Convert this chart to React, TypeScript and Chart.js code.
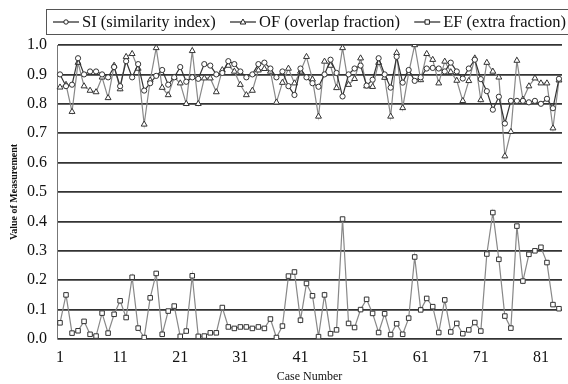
import React, { useEffect, useRef } from "react";
import { Chart, registerables } from "chart.js";

Chart.register(...registerables);

const caseNumbers: number[] = Array.from({ length: 84 }, (_, i) => i + 1);
const xTickLabels: number[] = [1, 11, 21, 31, 41, 51, 61, 71, 81];

const seriesNames: string[] = ["SI (similarity index)", "OF (overlap fraction)", "EF (extra fraction)"];

const siValues: number[] = [
  0.90, 0.86, 0.865, 0.955, 0.90, 0.91, 0.91, 0.90, 0.89, 0.925,
  0.86, 0.945, 0.89, 0.935, 0.845, 0.87, 0.895, 0.915, 0.865, 0.89,
  0.925, 0.875, 0.89, 0.885, 0.935, 0.93, 0.90, 0.905, 0.945, 0.935,
  0.91, 0.89, 0.90, 0.935, 0.94, 0.92, 0.89, 0.91, 0.86, 0.83,
  0.92, 0.89, 0.87, 0.858, 0.90, 0.95, 0.905, 0.825, 0.90, 0.92,
  0.93, 0.862, 0.882, 0.955, 0.90, 0.855, 0.96, 0.872, 0.915, 0.878,
  0.89, 0.92, 0.922, 0.92, 0.91, 0.94, 0.91, 0.886, 0.92, 0.95,
  0.884, 0.843, 0.78, 0.824, 0.733, 0.81, 0.81, 0.81, 0.805, 0.81,
  0.80, 0.817, 0.785, 0.885,
];

const ofValues: number[] = [
  0.856, 0.865, 0.773, 0.94, 0.86, 0.845, 0.84, 0.89, 0.82, 0.93,
  0.85, 0.96, 0.97, 0.92, 0.73, 0.88, 0.99, 0.855, 0.83, 0.89,
  0.87, 0.80, 0.98, 0.80, 0.887, 0.887, 0.84, 0.915, 0.93, 0.91,
  0.865, 0.83, 0.845, 0.914, 0.919, 0.91, 0.805, 0.872, 0.92, 0.87,
  0.91, 0.96, 0.883, 0.757, 0.944, 0.93, 0.854, 0.99, 0.865, 0.885,
  0.955, 0.86, 0.858, 0.94, 0.889, 0.757, 0.973, 0.786, 0.905, 1.0,
  0.881, 0.97, 0.95, 0.87, 0.944, 0.908, 0.879, 0.81, 0.878, 0.955,
  0.813, 0.94, 0.91, 0.89, 0.622, 0.705, 0.947, 0.815, 0.86, 0.887,
  0.87, 0.87, 0.717, 0.88,
];

const efValues: number[] = [
  0.055, 0.15, 0.02, 0.028, 0.06, 0.016, 0.01, 0.088, 0.02, 0.084,
  0.13, 0.073, 0.21, 0.037, 0.005, 0.14, 0.223, 0.016, 0.095, 0.112,
  0.009, 0.027, 0.215, 0.009, 0.01, 0.021, 0.021, 0.107, 0.041, 0.036,
  0.041, 0.041, 0.036, 0.041, 0.036, 0.068, 0.005, 0.044, 0.214, 0.228,
  0.064, 0.189, 0.147, 0.008, 0.15, 0.018, 0.031, 0.408, 0.053, 0.039,
  0.10, 0.135, 0.087, 0.022, 0.086, 0.015, 0.052, 0.016, 0.071, 0.279,
  0.099, 0.138, 0.11, 0.022, 0.133, 0.024, 0.053, 0.018, 0.031, 0.056,
  0.027, 0.289, 0.43, 0.271, 0.078, 0.037, 0.384, 0.197, 0.288, 0.30,
  0.312, 0.26, 0.117, 0.103,
];

const FONT = "'Liberation Serif', 'Times New Roman', serif";

const legendPlugin = {
  id: "boxLegend",
  afterDraw(chart: any) {
    const ctx = chart.ctx as CanvasRenderingContext2D;
    ctx.save();
    ctx.strokeStyle = "#555";
    ctx.lineWidth = 1;
    ctx.strokeRect(46.5, 9.5, 540, 25);
    ctx.font = "16.5px " + FONT;
    ctx.textBaseline = "middle";
    const y = 22;
    const lineLen = 26;
    const textOff = 29;
    const startX = 53;
    const endX = 566;
    const widths = chart.data.datasets.map((ds: any) => ctx.measureText(ds.label).width);
    const total = widths.reduce((a: number, b: number) => a + b, 0) + textOff * widths.length;
    const gap = Math.max(4, (endX - startX - total) / (widths.length - 1));
    let x = startX;
    chart.data.datasets.forEach((ds: any, i: number) => {
      ctx.strokeStyle = "#222";
      ctx.lineWidth = 1.2;
      ctx.beginPath();
      ctx.moveTo(x, y);
      ctx.lineTo(x + lineLen, y);
      ctx.stroke();
      ctx.fillStyle = "#fff";
      ctx.lineWidth = 1;
      ctx.beginPath();
      const cx = x + lineLen / 2;
      if (ds.pointStyle === "circle") {
        ctx.arc(cx, y, 2.2, 0, Math.PI * 2);
      } else if (ds.pointStyle === "triangle") {
        ctx.moveTo(cx, y - 3);
        ctx.lineTo(cx + 2.8, y + 2);
        ctx.lineTo(cx - 2.8, y + 2);
        ctx.closePath();
      } else {
        ctx.rect(cx - 2.2, y - 2.2, 4.4, 4.4);
      }
      ctx.fill();
      ctx.stroke();
      ctx.fillStyle = "#111";
      ctx.fillText(ds.label, x + textOff, y + 1);
      x += textOff + widths[i] + gap;
    });
    ctx.restore();
  },
};

export default function App() {
  const ref = useRef<HTMLCanvasElement | null>(null);

  useEffect(() => {
    document.body.style.margin = "0";
    if (!ref.current) return;
    const chart = new Chart(ref.current, {
      type: "line",
      data: {
        labels: caseNumbers.map(String),
        datasets: [
          {
            label: seriesNames[0],
            data: siValues,
            borderColor: "#333",
            borderWidth: 1.2,
            pointStyle: "circle",
            pointRadius: 2.6,
            pointBackgroundColor: "#fff",
            pointBorderColor: "#333",
            pointBorderWidth: 1,
            tension: 0,
          },
          {
            label: seriesNames[1],
            data: ofValues,
            borderColor: "#888",
            borderWidth: 1.2,
            pointStyle: "triangle",
            pointRadius: 3.4,
            pointBackgroundColor: "#fff",
            pointBorderColor: "#333",
            pointBorderWidth: 1,
            tension: 0,
          },
          {
            label: seriesNames[2],
            data: efValues,
            borderColor: "#888",
            borderWidth: 1.2,
            pointStyle: "rect",
            pointRadius: 3.2,
            pointBackgroundColor: "#fff",
            pointBorderColor: "#333",
            pointBorderWidth: 1,
            tension: 0,
          },
        ],
      },
      options: {
        animation: false,
        responsive: false,
        maintainAspectRatio: false,
        layout: { padding: { top: 45, left: 0, right: 0, bottom: 0 } },
        plugins: {
          legend: { display: false },
          tooltip: { enabled: false },
        },
        elements: { line: { borderJoinStyle: "miter" } },
        scales: {
          x: {
            type: "category",
            offset: true,
            grid: { display: false, drawTicks: false },
            border: { display: false },
            ticks: {
              autoSkip: false,
              maxRotation: 0,
              minRotation: 0,
              padding: 9,
              color: "#111",
              font: { family: FONT, size: 16 },
              callback: function (this: any, _v: any, i: number) {
                const lab = caseNumbers[i];
                return xTickLabels.includes(lab) ? String(lab) : "";
              },
            },
            title: {
              display: true,
              text: "Case Number",
              color: "#111",
              font: { family: FONT, size: 12 },
              padding: { top: 0, bottom: 0 },
            },
            afterFit: (s: any) => {
              s.height = 45;
            },
          },
          y: {
            type: "linear",
            min: 0,
            max: 1,
            grid: { color: "#333", lineWidth: 1.7, drawTicks: false },
            border: { display: true, color: "#777", width: 1 },
            ticks: {
              stepSize: 0.1,
              padding: 10,
              color: "#111",
              font: { family: FONT, size: 16 },
              callback: (v: any) => Number(v).toFixed(1),
            },
            title: {
              display: true,
              text: "Value of Measurement",
              color: "#111",
              font: { family: FONT, size: 10, weight: "bold" },
              padding: { top: 8, bottom: 0 },
            },
            afterFit: (s: any) => {
              s.width = 57;
            },
          },
        },
      },
      plugins: [legendPlugin],
    });
    return () => chart.destroy();
  }, []);

  return (
    <div style={{ width: 568, height: 384, background: "#fff" }}>
      <canvas ref={ref} width={568} height={384} style={{ display: "block" }} />
    </div>
  );
}
